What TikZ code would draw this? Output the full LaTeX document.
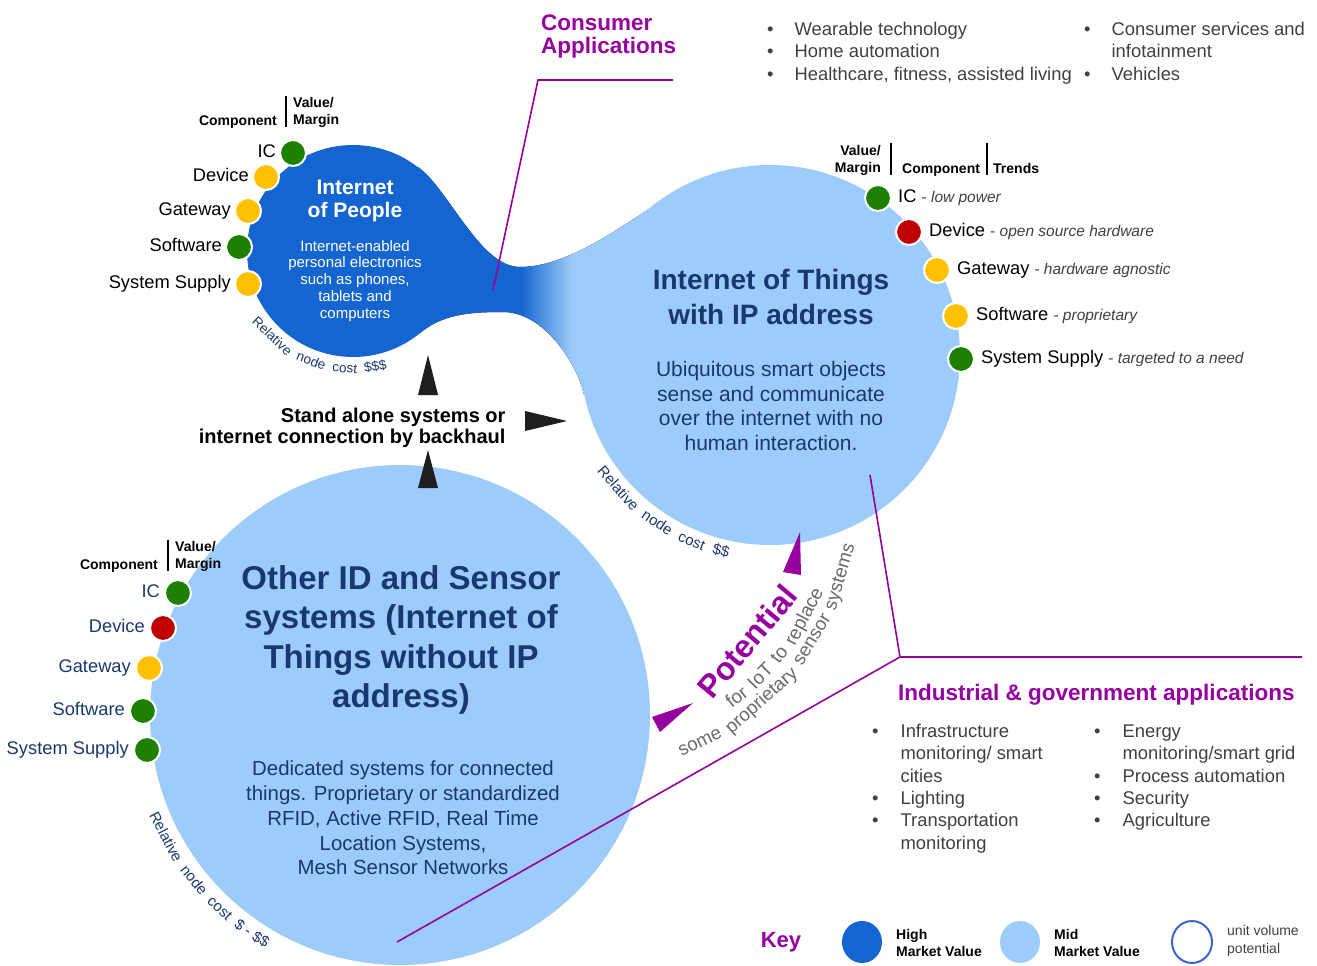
\documentclass[tikz,border=0pt]{standalone}
\usepackage{fontspec}
\setmainfont{Liberation Sans}
\usetikzlibrary{positioning,shapes.geometric}

\definecolor{iopblue}{RGB}{21,101,208}
\definecolor{iotblue}{RGB}{157,204,250}
\definecolor{navy}{RGB}{25,55,112}
\definecolor{appurple}{RGB}{150,0,160}
\definecolor{dotgreen}{RGB}{30,128,0}
\definecolor{dotyellow}{RGB}{255,192,0}
\definecolor{dotred}{RGB}{192,0,0}
\definecolor{textgray}{RGB}{64,64,64}
\definecolor{potgray}{RGB}{105,105,105}
\definecolor{keyring}{RGB}{60,100,210}
\definecolor{wedgeblack}{RGB}{30,30,30}

\pgfdeclarehorizontalshading{bridgefade}{100bp}{color(0bp)=(iopblue); color(47bp)=(iopblue); color(55bp)=(iotblue); color(100bp)=(iotblue)}

\newcommand{\fsz}[2]{\fontsize{#1}{#2}\selectfont}
\newcommand{\trend}[1]{{\fsz{15.5}{18}\color{textgray} - \itshape #1}}

\begin{document}
\begin{tikzpicture}[x=1pt,y=1pt,
	dot/.style={circle,draw=white,line width=2,minimum size=26pt,inner sep=0pt},
	gdot/.style={dot,fill=dotgreen},
	ydot/.style={dot,fill=dotyellow},
	rdot/.style={dot,fill=dotred},
	comp/.style={inner sep=1pt,text height=13pt,text depth=4pt,font=\fsz{18.3}{22}},
	hdr/.style={inner sep=0pt,font=\bfseries\fsz{14}{17.5}},
	bar/.style={line width=1.3},
	leader/.style={appurple,line width=1.6},
	wedge/.style={fill=wedgeblack},
	pwedge/.style={fill=appurple},
	arcword/.style={anchor=base,inner sep=0pt,text=navy},
	potword/.style={anchor=base,inner sep=0pt,text=potgray},
	bullets/.style={inner sep=0pt,anchor=base west,text=textgray,font=\fsz{18.4}{22.3}},
	keyswatch/.style={ellipse,minimum width=40pt,minimum height=42pt,inner sep=0pt},
	keytext/.style={anchor=west,align=left,inner sep=0pt,font=\bfseries\fsz{14}{16.5}}]
	\useasboundingbox (0,0) rectangle (1317,-966);

	% bubbles
	\fill[shading=bridgefade] (418,-167) .. controls (450,-191) and (480,-267) .. (520,-267)
		.. controls (575,-267) and (636,-214) .. (680,-190) -- (700,-300) -- (584,-395)
		.. controls (578,-366) and (545,-312) .. (503,-312)
		.. controls (470,-312) and (443,-314) .. (420,-333) -- (380,-250) -- cycle;
	\fill[iopblue] (353,-251) circle[radius=106];
	\fill[iotblue] (770,-355) circle[radius=190];
	\fill[iotblue] (400,-715) circle[radius=250];

	% leader lines
	\coordinate (cons-end) at (673,-80);
	\coordinate (cons-knee) at (538,-80);
	\coordinate (cons-tip) at (493,-290);
	\coordinate (ind-end) at (1302,-657);
	\coordinate (ind-knee) at (900,-657);
	\coordinate (ind-tip-a) at (870,-475);
	\coordinate (ind-tip-b) at (397,-942);
	\draw[leader] (cons-end) -- (cons-knee) -- (cons-tip);
	\draw[leader] (ind-end) -- (ind-knee) -- (ind-tip-a);
	\draw[leader] (ind-knee) -- (ind-tip-b);

	% Internet of People
	\node[font=\bfseries\fsz{21}{23},text=white,align=center] (iop-title) at (355,-201) {Internet\\of People};
	\node[font=\fsz{15}{16.9},text=white,align=center] (iop-text) at (355,-281) {Internet-enabled\\personal electronics\\such as phones,\\tablets and\\computers};
	\node[gdot] (iop-ic) at (293,-153) {};
	\node[ydot] (iop-dev) at (266,-177) {};
	\node[ydot] (iop-gw) at (248,-211) {};
	\node[gdot] (iop-sw) at (239,-247) {};
	\node[ydot] (iop-ss) at (248,-284) {};
	\node[comp,left=2pt of iop-ic] (iop-ic-l) {IC};
	\node[comp,left=2pt of iop-dev] (iop-dev-l) {Device};
	\node[comp,left=2pt of iop-gw] (iop-gw-l) {Gateway};
	\node[comp,left=2pt of iop-sw] (iop-sw-l) {Software};
	\node[comp,left=2pt of iop-ss] (iop-ss-l) {System Supply};
	\node[hdr,anchor=base east] (iop-comp) at (277,-125) {Component};
	\node[hdr,anchor=north west,align=left] (iop-val) at (293,-97) {Value/\\Margin};
	\draw[bar] (286,-96) -- (286,-127);
	\begin{scope}[shift={(353,-251)},arcword/.append style={font=\fsz{13.5}{13.5}}]
		\foreach \w/\a [count=\i] in {Relative/226.5,node/249.2,cost/266.0,\$\$\$/281.0}
			\node[arcword,rotate=\a+90] (iop-cost-\i) at (\a:122) {\w};
	\end{scope}

	% Internet of Things with IP address
	\node[font=\bfseries\fsz{28}{35},text=navy,align=center] (iot-title) at (771,-297) {Internet of Things\\with IP address};
	\node[font=\fsz{21}{24.5},text=navy,align=center] (iot-text) at (771,-406) {Ubiquitous smart objects\\sense and communicate\\over the internet with no\\human interaction.};
	\node[gdot] (iot-ic) at (878,-198) {};
	\node[rdot] (iot-dev) at (909,-232) {};
	\node[ydot] (iot-gw) at (937,-270) {};
	\node[ydot] (iot-sw) at (956,-316) {};
	\node[gdot] (iot-ss) at (961,-359) {};
	\node[comp,right=5pt of iot-ic] (iot-ic-l) {IC \trend{low power}};
	\node[comp,right=5pt of iot-dev] (iot-dev-l) {Device \trend{open source hardware}};
	\node[comp,right=5pt of iot-gw] (iot-gw-l) {Gateway \trend{hardware agnostic}};
	\node[comp,right=5pt of iot-sw] (iot-sw-l) {Software \trend{proprietary}};
	\node[comp,right=5pt of iot-ss] (iot-ss-l) {System Supply \trend{targeted to a need}};
	\node[hdr,anchor=north east,align=right] (iot-val) at (881,-145) {Value/\\Margin};
	\node[hdr,anchor=base west] (iot-comp) at (902,-173) {Component};
	\node[hdr,anchor=base west] (iot-trends) at (993,-173) {Trends};
	\draw[bar] (891,-143) -- (891,-175);
	\draw[bar] (987,-143) -- (987,-175);
	\begin{scope}[shift={(770,-355)},arcword/.append style={font=\fsz{15}{15}}]
		\foreach \w/\a [count=\i] in {Relative/221.3,node/236.1,cost/247.2,\$\$/256.0}
			\node[arcword,rotate=\a+90] (iot-cost-\i) at (\a:207) {\w};
	\end{scope}

	% Other ID and sensor systems
	\node[font=\bfseries\fsz{33}{39.5},text=navy,align=center] (oth-title) at (401,-640) {Other ID and Sensor\\systems (Internet of\\Things without IP\\address)};
	\node[font=\fsz{20.4}{24.8},text=navy,align=center] (oth-text) at (403,-818) {Dedicated systems for connected\\things. Proprietary or standardized\\RFID, Active RFID, Real Time\\Location Systems,\\Mesh Sensor Networks};
	\node[gdot] (oth-ic) at (178,-593) {};
	\node[rdot] (oth-dev) at (163,-628) {};
	\node[ydot] (oth-gw) at (149,-668) {};
	\node[gdot] (oth-sw) at (143,-711) {};
	\node[gdot] (oth-ss) at (147,-750) {};
	\node[comp,text=navy,left=3pt of oth-ic] (oth-ic-l) {IC};
	\node[comp,text=navy,left=3pt of oth-dev] (oth-dev-l) {Device};
	\node[comp,text=navy,left=3pt of oth-gw] (oth-gw-l) {Gateway};
	\node[comp,text=navy,left=3pt of oth-sw] (oth-sw-l) {Software};
	\node[comp,text=navy,left=3pt of oth-ss] (oth-ss-l) {System Supply};
	\node[hdr,anchor=base east] (oth-comp) at (158,-569) {Component};
	\node[hdr,anchor=north west,align=left] (oth-val) at (175,-541) {Value/\\Margin};
	\draw[bar] (168,-540) -- (168,-571);
	\begin{scope}[shift={(400,-715)},arcword/.append style={font=\fsz{15}{15}}]
		\foreach \w/\a [count=\i] in {Relative/207.5,node/218.7,cost/227.0,\$/232.6,-/234.95,\$\$/238.2}
			\node[arcword,rotate=\a+90] (oth-cost-\i) at (\a:269) {\w};
	\end{scope}

	% stand alone systems
	\node[font=\bfseries\fsz{20}{20.5},align=right,anchor=east] (standalone) at (509,-428) {Stand alone systems or\\internet connection by backhaul};
	\fill[wedge] (428,-355) -- (438,-395) -- (418,-395) -- cycle;
	\fill[wedge] (428,-450) -- (438,-488) -- (418,-488) -- cycle;
	\fill[wedge] (567,-421) -- (525,-411) -- (525,-431) -- cycle;

	% potential
	\fill[pwedge] (800,-532) -- (801,-575) -- (783,-572) -- cycle;
	\fill[pwedge] (652,-717) -- (693,-703) -- (660,-732) -- cycle;
	\begin{scope}[shift={(584,-502)}]
		\node[anchor=base,inner sep=0pt,text=appurple,font=\bfseries\fsz{32}{32},rotate=50] (pot-word) at (319.5:226) {Potential};
		\foreach \w/\a [count=\i] in {for/308.05,IoT/315.35,to/321.9,replace/332.5}
			\node[potword,font=\fsz{19}{19},rotate=\a+90] (pot-a-\i) at (\a:254) {\w};
		\foreach \w/\a [count=\i] in {some/295.8,proprietary/311.75,sensor/328.85,systems/343.7}
			\node[potword,font=\fsz{18.8}{18.8},rotate=\a+90] (pot-b-\i) at (\a:272) {\w};
	\end{scope}

	% applications
	\node[font=\bfseries\fsz{22.5}{22.5},text=appurple,align=left,anchor=north west,inner sep=0pt] (cons-title) at (541,-15) {Consumer\\Applications};
	\node[bullets] (cons-list-a) at (767,-35.5) {\begin{tabular}[t]{@{}l@{\hspace{21pt}}l@{}}•&Wearable technology\\•&Home automation\\•&Healthcare, fitness, assisted living\end{tabular}};
	\node[bullets] (cons-list-b) at (1084,-35.5) {\begin{tabular}[t]{@{}l@{\hspace{21pt}}l@{}}•&Consumer services and\\&infotainment\\•&Vehicles\end{tabular}};
	\node[font=\bfseries\fsz{22.5}{24},text=appurple,anchor=base west,inner sep=0pt] (ind-title) at (898,-700) {Industrial \& government applications};
	\node[bullets] (ind-list-a) at (872,-737.6) {\begin{tabular}[t]{@{}l@{\hspace{22pt}}l@{}}•&Infrastructure\\&monitoring/ smart\\&cities\\•&Lighting\\•&Transportation\\&monitoring\end{tabular}};
	\node[bullets] (ind-list-b) at (1094,-737.6) {\begin{tabular}[t]{@{}l@{\hspace{22pt}}l@{}}•&Energy\\&monitoring/smart grid\\•&Process automation\\•&Security\\•&Agriculture\end{tabular}};

	% key
	\node[font=\bfseries\fsz{22}{22},text=appurple,inner sep=0pt] (key-title) at (781,-942) {Key};
	\node[keyswatch,fill=iopblue] (key-high) at (862,-942) {};
	\node[keyswatch,fill=iotblue] (key-mid) at (1020,-942) {};
	\node[keyswatch,draw=keyring,line width=2] (key-unit) at (1192,-942) {};
	\node[keytext] (key-high-l) at (896,-943) {High\\Market Value};
	\node[keytext] (key-mid-l) at (1054,-943) {Mid\\Market Value};
	\node[keytext,text=textgray,font=\fsz{14}{17.5}] (key-unit-l) at (1227,-941) {unit volume\\potential};
\end{tikzpicture}
\end{document}
